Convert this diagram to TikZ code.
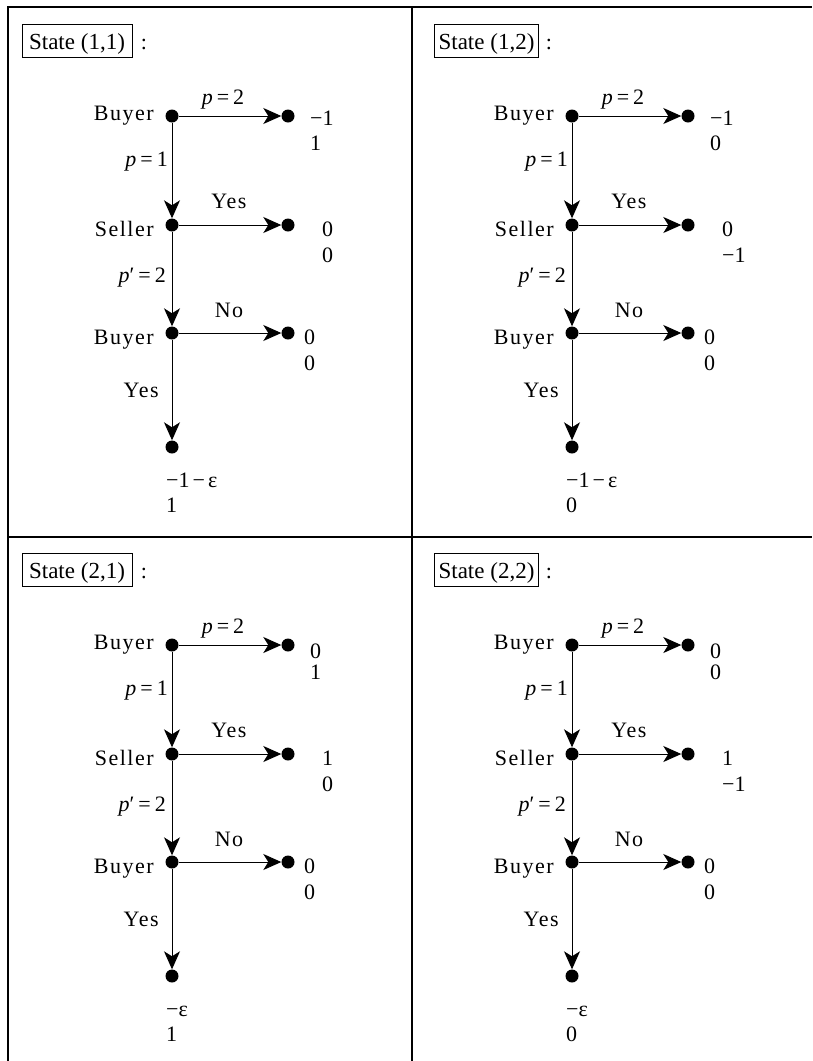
\documentclass[tikz,border=0pt]{standalone}
\usepackage{fontspec}
\setmainfont{Liberation Serif}
\newfontfamily\spcfont[LetterSpace=7]{Liberation Serif}
\usetikzlibrary{arrows.meta}
\tikzset{
  txt/.style={font=\fontsize{22}{26}\selectfont, inner sep=0pt},
  lsp/.style={font=\fontsize{22}{26}\selectfont\spcfont, inner sep=0pt},
  dotnode/.style={circle, fill=black, inner sep=0pt, minimum size=13pt},
  arr/.style={line width=1pt, -{Stealth[length=18pt,width=16pt,inset=5pt]}},
  statebox/.style={draw, line width=1pt, font=\fontsize{23}{27}\selectfont,
    inner sep=0pt, text height=25pt, text depth=8pt},
  frameline/.style={line width=1.4pt}
}
\newcommand\pe{{\itshape p}\hspace{4pt}=\hspace{4pt}}
\newcommand\skel[5]{%
  \node[statebox, minimum width=#4pt, anchor=base] (#1box) at (#3,49) {State (#2)};
  \node[txt, anchor=base] (#1colon) at (#5,49) {:};
  \node[dotnode] (#1b1) at (172,116) {};
  \node[dotnode] (#1e1) at (288,116) {};
  \node[dotnode] (#1s) at (172,225) {};
  \node[dotnode] (#1e2) at (288,225) {};
  \node[dotnode] (#1b2) at (172,333) {};
  \node[dotnode] (#1e3) at (288,333) {};
  \node[dotnode] (#1t) at (172,447) {};
  \draw[arr] (#1b1) -- (#1e1);
  \draw[arr] (#1b1) -- (#1s);
  \draw[arr] (#1s) -- (#1e2);
  \draw[arr] (#1s) -- (#1b2);
  \draw[arr] (#1b2) -- (#1e3);
  \draw[arr] (#1b2) -- (#1t);
  \node[lsp, anchor=base east] (#1lbuyer) at (154,120) {Buyer};
  \node[txt, anchor=base] (#1lp2) at (223,104) {\pe 2};
  \node[txt, anchor=base east] (#1lp1) at (168,166) {\pe 1};
  \node[lsp, anchor=base east] (#1lseller) at (154,236) {Seller};
  \node[lsp, anchor=base] (#1lyes) at (229,208) {Yes};
  \node[txt, anchor=base east] (#1lpp) at (166,282) {{\itshape p}′\hspace{4pt}=\hspace{4pt}2};
  \node[lsp, anchor=base] (#1lno) at (229,317) {No};
  \node[lsp, anchor=base east] (#1lbuyerb) at (154,344) {Buyer};
  \node[lsp, anchor=base east] (#1lyesb) at (159,397) {Yes};
}
\newcommand\pay[9]{%
  \node[txt, anchor=base west] (#1p1) at (310,#2) {#3};
  \node[txt, anchor=base west] (#1p2) at (310,150) {#4};
  \node[txt, anchor=base west] (#1p3) at (322,236) {#5};
  \node[txt, anchor=base west] (#1p4) at (322,262) {#6};
  \node[txt, anchor=base west] (#1p5) at (304,344) {0};
  \node[txt, anchor=base west] (#1p6) at (304,370) {0};
  \node[txt, anchor=base west] (#1p7) at (166,487) {#7};
  \node[txt, anchor=base west] (#1p8) at (166,512) {#8};
}
\begin{document}
\begin{tikzpicture}[x=1pt,y=-1pt]
\useasboundingbox (0,0) rectangle (812,1061);
\draw[frameline] (8,1061) -- (8,7) -- (812,7);
\draw[frameline] (412,7) -- (412,1061);
\draw[frameline] (8,537) -- (812,537);
\begin{scope}
  \skel{a}{1,1}{77}{110}{144}
  \pay{a}{125}{−1}{1}{0}{0}{−1\hspace{3pt}−\hspace{3pt}ε}{1}{}
\end{scope}
\begin{scope}[shift={(400,0)}]
  \skel{b}{1,2}{86.5}{104}{149}
  \pay{b}{125}{−1}{0}{0}{−1}{−1\hspace{3pt}−\hspace{3pt}ε}{0}{}
\end{scope}
\begin{scope}[shift={(0,529)}]
  \skel{c}{2,1}{77}{110}{144}
  \pay{c}{129}{0}{1}{1}{0}{−ε}{1}{}
\end{scope}
\begin{scope}[shift={(400,529)}]
  \skel{d}{2,2}{86.5}{104}{149}
  \pay{d}{129}{0}{0}{1}{−1}{−ε}{0}{}
\end{scope}
\end{tikzpicture}
\end{document}
